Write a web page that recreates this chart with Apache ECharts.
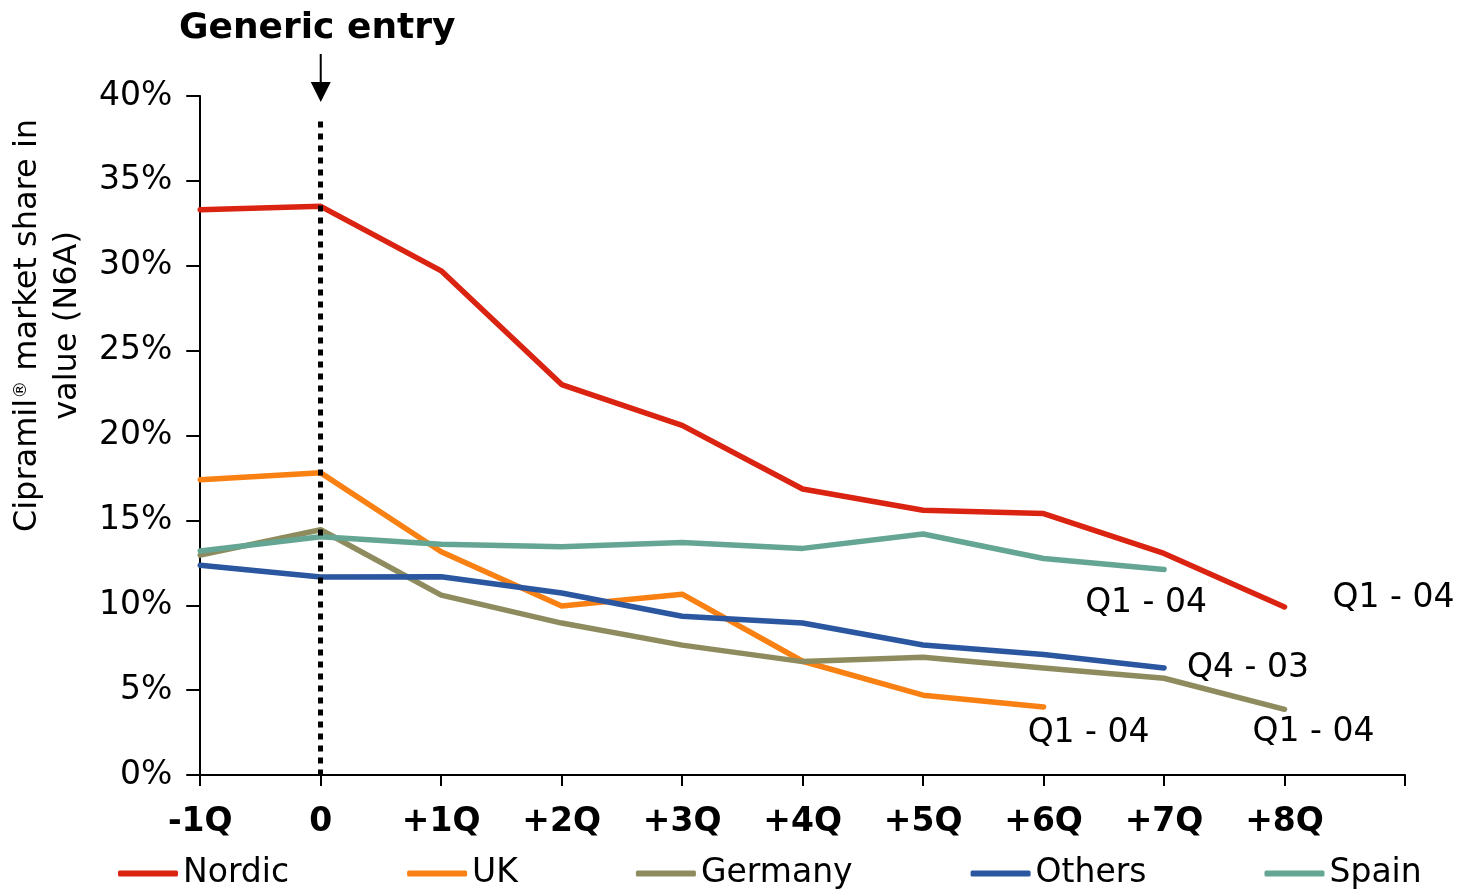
<!DOCTYPE html>
<html>
<head>
<meta charset="utf-8">
<script src="https://cdn.jsdelivr.net/npm/echarts@6/dist/echarts.min.js"></script>
<style>
  html, body { margin: 0; padding: 0; background: #fff; }
  #main { width: 1461px; height: 889px; }
</style>
</head>
<body>
<div id="main"></div>
<script>
// quarters relative to generic entry (last slot is empty, axis runs past +8Q)
var quarters = ['-1Q', '0', '+1Q', '+2Q', '+3Q', '+4Q', '+5Q', '+6Q', '+7Q', '+8Q', ''];
var yTicks = [0, 5, 10, 15, 20, 25, 30, 35, 40];

// market share in value, %
var nordic  = [33.3, 33.5, 29.7, 23.0, 20.6, 16.85, 15.6, 15.4, 13.05, 9.9];
var uk      = [17.4, 17.8, 13.15, 9.95, 10.65, 6.7, 4.7, 4.0];
var germany = [12.95, 14.45, 10.6, 8.95, 7.65, 6.68, 6.93, 6.3, 5.7, 3.87];
var others  = [12.35, 11.66, 11.68, 10.72, 9.35, 8.95, 7.66, 7.1, 6.3];
var spain   = [13.2, 14.04, 13.6, 13.45, 13.7, 13.35, 14.2, 12.75, 12.1];

var endLabels = {
    Nordic: 'Q1 - 04',
    UK: 'Q1 - 04',
    Germany: 'Q1 - 04',
    Others: 'Q4 - 03',
    Spain: 'Q1 - 04'
};

var FONT = 'DejaVu Sans';

function makeSeries(name, data, color, labelAlign, labelOffset) {
    return {
        name: name,
        type: 'line',
        data: data,
        showSymbol: false,
        symbol: 'none',
        lineStyle: { color: color, width: 5.5, cap: 'round', join: 'round' },
        itemStyle: { color: color },
        emphasis: { disabled: true },
        endLabel: {
            show: true,
            formatter: endLabels[name],
            color: '#000',
            fontFamily: FONT,
            fontSize: 33,
            distance: 0,
            align: labelAlign,
            verticalAlign: 'middle',
            offset: labelOffset
        },
        z: 3
    };
}

var chart = echarts.init(document.getElementById('main'));

var series = [
    makeSeries('Nordic', nordic, '#da2310', 'left', [48, -9]),
    makeSeries('UK', uk, '#f98012', 'center', [45, 26]),
    makeSeries('Germany', germany, '#8e8c5f', 'center', [29, 23]),
    makeSeries('Others', others, '#2b56a0', 'left', [23, 0]),
    makeSeries('Spain', spain, '#64a693', 'center', [-18, 34])
];

// generic entry dotted line
series[0].markLine = {
    silent: true,
    symbol: ['none', 'none'],
    label: { show: false },
    lineStyle: { color: '#000', type: [6, 6], width: 5 },
    data: [[{ coord: ['0', 38.5] }, { coord: ['0', 0] }]]
};

var option = {
    animation: false,
    textStyle: { fontFamily: FONT },
    title: {
        text: 'Generic entry',
        left: 174,
        top: 6,
        textStyle: { fontFamily: FONT, fontSize: 36, fontWeight: 'bold', color: '#000' }
    },
    grid: { left: 199, right: 56, top: 96, bottom: 114, containLabel: false },
    legend: {
        left: 113,
        top: 852,
        itemGap: 118,
        itemWidth: 60,
        itemHeight: 6,
        icon: 'roundRect',
        textStyle: { fontFamily: FONT, fontSize: 33, color: '#000' },
        data: ['Nordic', 'UK', 'Germany', 'Others', 'Spain']
    },
    xAxis: {
        type: 'category',
        data: quarters,
        boundaryGap: false,
        axisLine: { lineStyle: { color: '#000', width: 2 } },
        axisTick: { show: true, length: 11, inside: false, lineStyle: { color: '#000', width: 2 } },
        axisLabel: {
            interval: 0,
            margin: 31,
            fontFamily: FONT,
            fontSize: 33,
            fontWeight: 'bold',
            color: '#000'
        },
        splitLine: { show: false }
    },
    yAxis: {
        type: 'value',
        min: yTicks[0],
        max: yTicks[yTicks.length - 1],
        interval: 5,
        name: 'Cipramil{sup|®} market share in\nvalue (N6A)',
        nameLocation: 'middle',
        nameGap: 110,
        nameRotate: 90,
        nameTextStyle: {
            fontFamily: FONT,
            fontSize: 32,
            lineHeight: 40,
            color: '#000',
            padding: [0, 0, 0, 220],
            rich: {
                sup: { fontFamily: FONT, fontSize: 18, lineHeight: 40, padding: [0, 0, 14, 0], color: '#000' }
            }
        },
        axisLine: { show: true, lineStyle: { color: '#000', width: 2 } },
        axisTick: { show: true, length: 14, inside: false, lineStyle: { color: '#000', width: 2 } },
        axisLabel: {
            margin: 28,
            fontFamily: FONT,
            fontSize: 33,
            color: '#000',
            formatter: '{value}%'
        },
        splitLine: { show: false }
    },
    series: series
};

chart.setOption(option);

// arrow pointing at the generic entry quarter
var top40 = chart.convertToPixel({ xAxisIndex: 0, yAxisIndex: 0 }, ['0', 40]);
var ax = top40[0];
chart.setOption({
    graphic: [
        {
            type: 'line',
            shape: { x1: ax, y1: 54, x2: ax, y2: 84 },
            style: { stroke: '#000', lineWidth: 2 }
        },
        {
            type: 'polygon',
            shape: { points: [[ax - 10, 82], [ax + 10, 82], [ax, 102]] },
            style: { fill: '#000' }
        }
    ]
});
</script>
</body>
</html>
